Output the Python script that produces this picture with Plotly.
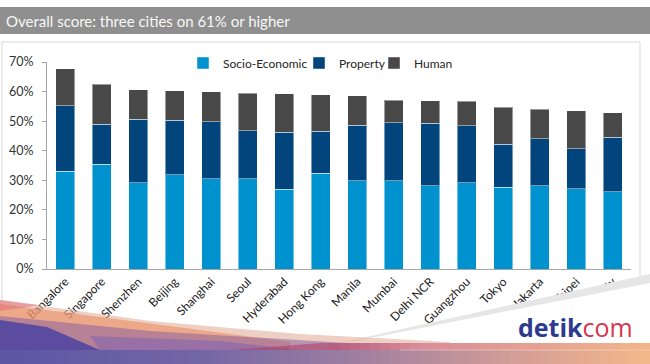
import plotly.graph_objects as go

# ---------------- data ----------------
cities = ["Bangalore", "Singapore", "Shenzhen", "Beijing", "Shanghai", "Seoul",
          "Hyderabad", "Hong Kong", "Manila", "Mumbai", "Delhi NCR", "Guangzhou",
          "Tokyo", "Jakarta", "Taipei", "Ho Chi Minh City"]
socio_economic = [33.1, 35.5, 29.2, 31.8, 30.5, 30.5, 27.0, 32.4, 29.8, 29.8, 28.2, 29.1, 27.6, 28.1, 27.2, 26.1]
property_score = [22.1, 13.5, 21.5, 18.5, 19.3, 16.2, 19.2, 14.1, 18.8, 19.6, 21.1, 19.3, 14.6, 16.0, 13.4, 18.4]
human_score = [12.5, 13.5, 10.0, 9.9, 10.2, 12.7, 13.0, 12.4, 10.0, 7.7, 7.6, 8.3, 12.5, 9.9, 12.9, 8.4]
y_ticks = [0, 10, 20, 30, 40, 50, 60, 70]
y_tick_labels = ["0%", "10%", "20%", "30%", "40%", "50%", "60%", "70%"]
title_text = "Overall score: three cities on 61% or higher"

# ---------------- layout geometry (pixels) ----------------
W, H = 650, 364
L, R, T, B = 47, 631, 62, 269
PW, PH = R - L, B - T


def px(x):
    return (x - L) / PW


def py(y):
    return (B - y) / PH


def poly(points):
    return "M " + " L ".join(f"{px(x):.5f},{py(y):.5f}" for x, y in points) + " Z"


def hex2rgb(h):
    h = h.lstrip("#")
    return tuple(int(h[i:i + 2], 16) for i in (0, 2, 4))


def grad_color(stops, x):
    for (x0, c0), (x1, c1) in zip(stops[:-1], stops[1:]):
        if x0 <= x <= x1:
            t = (x - x0) / (x1 - x0) if x1 > x0 else 0
            a, b = hex2rgb(c0), hex2rgb(c1)
            return "rgb(%d,%d,%d)" % tuple(round(a[i] + (b[i] - a[i]) * t) for i in range(3))
    return stops[-1][1]


FONT = "Lato, Calibri, Arial, sans-serif"
BAR_LINE = dict(color="rgba(255,255,255,0.45)", width=1)

fig = go.Figure()
fig.add_trace(go.Bar(name="Socio-Economic", x=cities, y=socio_economic, legend="legend",
                     marker=dict(color="#0092CF", line=BAR_LINE)))
fig.add_trace(go.Bar(name="Property", x=cities, y=property_score, legend="legend2",
                     marker=dict(color="#02457D", line=BAR_LINE)))
fig.add_trace(go.Bar(name="Human", x=cities, y=human_score, legend="legend3",
                     marker=dict(color="#484848", line=BAR_LINE)))

shapes = []
# title bar
shapes.append(dict(type="rect", xref="paper", yref="paper", x0=px(0), x1=px(W), y0=py(34), y1=py(7),
                   fillcolor="#8f8f8f", line=dict(width=0), layer="below"))
# chart box border (top/left/right)
for (xa, ya, xb, yb) in [(2, 42, 640, 42), (2, 42, 2, 310), (640, 42, 640, 276)]:
    shapes.append(dict(type="line", xref="paper", yref="paper", x0=px(xa), y0=py(ya), x1=px(xb), y1=py(yb),
                       line=dict(color="#d9d9d9", width=1), layer="below"))

# white page overlay hiding parts of labels + grey wedge
shapes.append(dict(type="path", xref="paper", yref="paper",
                   path=poly([(300, 352), (650, 274), (650, 364), (300, 364)]),
                   fillcolor="white", line=dict(width=0), layer="above"))
shapes.append(dict(type="path", xref="paper", yref="paper",
                   path=poly([(330, 345), (650, 274), (650, 283), (330, 346)]),
                   fillcolor="#e6e6e6", line=dict(width=0), layer="above"))

# left decorative swooshes
deco = [
    ([(0, 300), (150, 321), (300, 334), (450, 342), (450, 350), (0, 350)], "rgba(225,175,155,0.6)"),
    ([(0, 304), (100, 317), (200, 330), (290, 342), (290, 350), (0, 350)], "rgba(236,135,90,0.55)"),
    ([(0, 300), (40, 305), (0, 311)], "rgba(220,100,120,0.45)"),
    ([(0, 316), (150, 331), (330, 342), (450, 350), (0, 350)], "rgba(140,100,160,0.55)"),
    ([(0, 320), (47, 327), (100, 350), (0, 350)], "rgba(84,72,160,0.92)"),
    ([(90, 336), (220, 341), (300, 350), (100, 350)], "rgba(130,100,175,0.6)"),
    ([(230, 350), (320, 343), (420, 343), (500, 350)], "rgba(175,60,100,0.55)"),
]
for pts, col in deco:
    shapes.append(dict(type="path", xref="paper", yref="paper", path=poly(pts),
                       fillcolor=col, line=dict(width=0), layer="above"))

# pink band and bottom gradient strip
pink_stops = [(330, "#b45c82"), (420, "#d98c98"), (650, "#f3b58c")]
bottom_stops = [(0, "#5b56a3"), (200, "#7466a6"), (350, "#9c7ea0"), (500, "#d09a98"), (650, "#f5b88a")]
step = 10
for x in range(330, 650, step):
    shapes.append(dict(type="rect", xref="paper", yref="paper", x0=px(x), x1=px(x + step + 0.5),
                       y0=py(350), y1=py(343), fillcolor=grad_color(pink_stops, x + step / 2),
                       line=dict(width=0), layer="above"))
for x in range(0, 650, step):
    shapes.append(dict(type="rect", xref="paper", yref="paper", x0=px(x), x1=px(x + step + 0.5),
                       y0=py(364.5), y1=py(350), fillcolor=grad_color(bottom_stops, x + step / 2),
                       line=dict(width=0), layer="above"))
shapes.append(dict(type="line", xref="paper", yref="paper", x0=px(400), x1=px(650), y0=py(350), y1=py(350),
                   line=dict(color="rgba(255,255,255,0.35)", width=1), layer="above"))

annotations = [
    dict(text=title_text, xref="paper", yref="paper", x=px(4), y=py(20.5), xanchor="left", yanchor="middle",
         showarrow=False, font=dict(family=FONT, size=15, color="#f7f7f7")),
    dict(text="<b>detik</b><span style='color:#d8344f'>com</span>", xref="paper", yref="paper",
         x=px(575), y=py(327), xanchor="center", yanchor="middle", showarrow=False,
         font=dict(family="Open Sans, Lato, Arial", size=25, color="#2c3a8f")),
]


def legend_at(x_px):
    return dict(orientation="h", x=px(x_px), y=py(63), xanchor="left", yanchor="middle",
                font=dict(family=FONT, size=12, color="#262626"), itemwidth=30,
                bgcolor="rgba(0,0,0,0)")


fig.update_layout(
    width=W, height=H,
    barmode="stack", bargap=0.49,
    margin=dict(l=L, r=W - R, t=T, b=H - B, autoexpand=False),
    paper_bgcolor="white", plot_bgcolor="white",
    font=dict(family=FONT, color="#262626"),
    showlegend=True,
    legend=legend_at(183),
    legend2=legend_at(299),
    legend3=legend_at(374),
    shapes=shapes,
    annotations=annotations,
    xaxis=dict(showline=True, linecolor="#a6a6a6", linewidth=1, ticks="", tickangle=-45,
               tickfont=dict(family=FONT, size=12, color="#1a1a1a"), showgrid=False, zeroline=False,
               fixedrange=True, automargin=False),
    yaxis=dict(range=[0, 70], tickmode="array", tickvals=y_ticks, ticktext=y_tick_labels,
               showline=True, linecolor="#a6a6a6",
               linewidth=1, ticks="outside", ticklen=4, tickcolor="#a6a6a6", showgrid=False,
               zeroline=False, tickfont=dict(family=FONT, size=12.5, color="#333333"), fixedrange=True,
               automargin=False, ticklabelstandoff=6),
)

fig.write_html("out.html", config={"displayModeBar": False},
               post_script="document.body.style.margin='0';document.body.style.overflow='hidden';")
